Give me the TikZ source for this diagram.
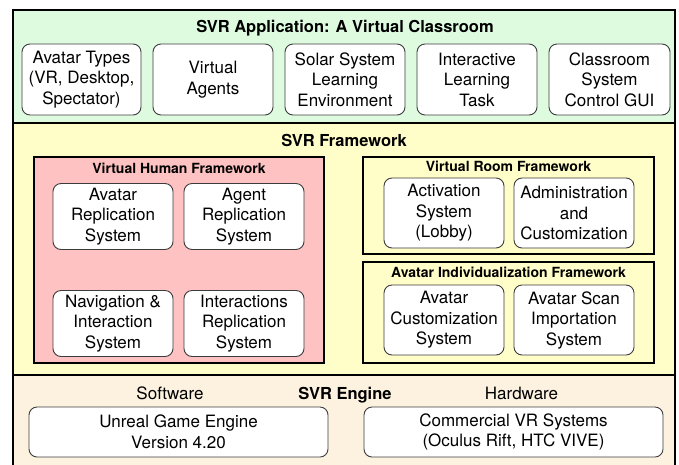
\documentclass[tikz,border=0pt]{standalone}
\usepackage{fontspec}
\setmainfont{TeX Gyre Heros}
\definecolor{appbg}{RGB}{222,251,224}
\definecolor{fwbg}{RGB}{255,253,200}
\definecolor{vhbg}{RGB}{255,194,194}
\definecolor{engbg}{RGB}{253,242,224}
\definecolor{boxline}{RGB}{60,60,60}
\tikzset{
  panel/.style={draw=black,line width=2.6pt,rectangle,inner sep=0pt},
  group/.style={draw=black,line width=1.8pt,rectangle,inner sep=0pt},
  unit/.style={draw=boxline,line width=0.9pt,fill=white,rounded corners=8pt,
    align=center,inner sep=0pt,font=\fontsize{17}{20.5}\selectfont},
  maintitle/.style={anchor=base,inner sep=0pt,font=\fontsize{16.5}{19}\selectfont\bfseries},
  subtitle/.style={anchor=base,inner sep=0pt,font=\fontsize{14}{17}\selectfont\bfseries},
  plainlabel/.style={anchor=base,inner sep=0pt,font=\fontsize{17}{20.5}\selectfont},
}
\begin{document}
\begin{tikzpicture}[x=1pt,y=-1pt]
\useasboundingbox (0,0) rectangle (679,464);
\clip (0,0) rectangle (679,464);

% three stacked layers
\fill[appbg] (13,10) rectangle (675,123);
\fill[fwbg] (13,123) rectangle (675,375);
\fill[engbg] (13,375) rectangle (675,480);
\node[panel,minimum width=662pt,minimum height=113pt] (app) at (344,66.5) {};
\node[panel,minimum width=662pt,minimum height=252pt] (fw) at (344,249) {};
\node[panel,minimum width=662pt,minimum height=105pt] (eng) at (344,427.5) {};

% application layer
\node[maintitle] (apptitle) at (345,32) {SVR Application: A Virtual Classroom};
\node[unit,minimum width=119pt,minimum height=71pt] (types) at (81.5,79.5) {Avatar Types\\(VR, Desktop,\\Spectator)};
\node[unit,minimum width=120pt,minimum height=71pt] (agents) at (213,79.5) {Virtual\\Agents};
\node[unit,minimum width=120pt,minimum height=71pt] (solar) at (345,79.5) {Solar System\\Learning\\Environment};
\node[unit,minimum width=120pt,minimum height=71pt] (task) at (477,79.5) {Interactive\\Learning\\Task};
\node[unit,minimum width=121pt,minimum height=71pt] (gui) at (609.5,79.5) {Classroom\\System\\Control GUI};

% framework layer
\node[maintitle] (fwtitle) at (344,146) {SVR Framework};

\node[group,fill=vhbg,minimum width=290pt,minimum height=206pt] (vh) at (179,260) {};
\node[subtitle] (vhtitle) at (179,173.3) {Virtual Human Framework};
\node[unit,minimum width=120pt,minimum height=66pt] (avrep) at (113,216.5) {Avatar\\Replication\\System};
\node[unit,minimum width=120pt,minimum height=66pt] (agrep) at (244,216.5) {Agent\\Replication\\System};
\node[unit,minimum width=120pt,minimum height=66pt] (nav) at (113,323.5) {Navigation \&\\Interaction\\System};
\node[unit,minimum width=120pt,minimum height=66pt] (inter) at (244,323.5) {Interactions\\Replication\\System};

\node[group,minimum width=291pt,minimum height=97pt] (vr) at (508.5,205.5) {};
\node[subtitle] (vrtitle) at (508.5,171.7) {Virtual Room Framework};
\node[unit,minimum width=120pt,minimum height=70pt] (lobby) at (444,213) {Activation\\System\\(Lobby)};
\node[unit,minimum width=120pt,minimum height=70pt] (admin) at (574,213) {Administration\\and\\Customization};

\node[group,minimum width=291pt,minimum height=101pt] (ai) at (508.5,312.5) {};
\node[subtitle] (aititle) at (508.5,277.7) {Avatar Individualization Framework};
\node[unit,minimum width=120pt,minimum height=70pt] (custom) at (444,320) {Avatar\\Customization\\System};
\node[unit,minimum width=120pt,minimum height=70pt] (scan) at (574,320) {Avatar Scan\\Importation\\System};

% engine layer
\node[maintitle] (engtitle) at (345,399) {SVR Engine};
\node[plainlabel] (sw) at (170,399) {Software};
\node[plainlabel] (hw) at (521.5,399) {Hardware};
\node[unit,minimum width=299pt,minimum height=50pt] (unreal) at (178.5,432) {Unreal Game Engine\\Version 4.20};
\node[unit,minimum width=299pt,minimum height=50pt] (vrsys) at (513.5,432) {Commercial VR Systems\\(Oculus Rift, HTC VIVE)};
\end{tikzpicture}
\end{document}
